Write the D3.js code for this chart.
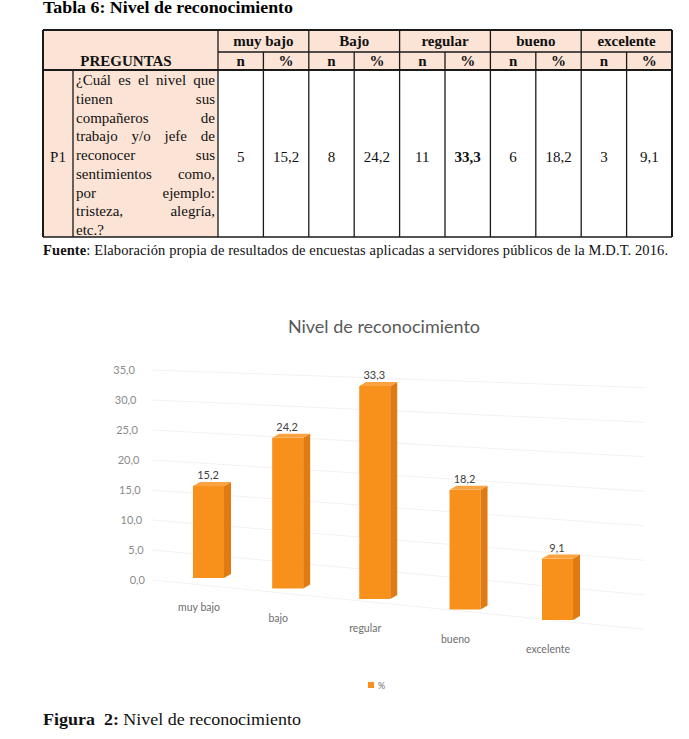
<!DOCTYPE html>
<html>
<head>
<meta charset="utf-8">
<script src="https://cdn.jsdelivr.net/npm/d3@7"></script>
<style>
  body { margin: 0; background: #fff; }
  svg { display: block; }
</style>
</head>
<body>
<div id="page"></div>
<script>
// tabla 6 data
var niveles = ["muy bajo", "Bajo", "regular", "bueno", "excelente"];
var frecuencias = [5, 8, 11, 6, 3];
var porcentajes = [15.2, 24.2, 33.3, 18.2, 9.1];
var pregunta = ["¿Cuál es el nivel que", "tienen sus", "compañeros de", "trabajo y/o jefe de",
  "reconocer sus", "sentimientos como,", "por ejemplo:", "tristeza, alegría,", "etc.?"];

// figura 2 data
var categorias = ["muy bajo", "bajo", "regular", "bueno", "excelente"];
var yTicks = [0, 5, 10, 15, 20, 25, 30, 35];
var serie = "%";

var coma = function (v) { return d3.format(".1f")(v).replace(".", ","); };
var serif = "'Liberation Serif', 'Times New Roman', serif";
var sans = "Lato, 'Open Sans', sans-serif";

var svg = d3.select("#page").append("svg")
  .attr("width", 689)
  .attr("height", 739);

// ---------- tabla ----------
svg.append("text")
  .attr("x", 43).attr("y", 13)
  .attr("textLength", 250).attr("lengthAdjust", "spacingAndGlyphs")
  .style("font-family", serif).style("font-size", "16px").style("font-weight", "bold")
  .text("Tabla 6: Nivel de reconocimiento");

var tx = d3.scaleLinear().domain([0, 10]).range([218, 672]);
var rowY = [30, 52, 70, 237];
var pink = "#fbe3d6";
var tbl = svg.append("g").style("font-family", serif).style("font-size", "15px").attr("fill", "#111");

tbl.append("rect").attr("x", 43).attr("y", rowY[0]).attr("width", 672 - 43).attr("height", rowY[2] - rowY[0]).attr("fill", pink);
tbl.append("rect").attr("x", 43).attr("y", rowY[2]).attr("width", 218 - 43).attr("height", rowY[3] - rowY[2]).attr("fill", pink);

var lines = tbl.append("g").attr("stroke", "#1a1a1a").attr("stroke-width", 1.3);
// horizontales
lines.append("line").attr("x1", 43).attr("x2", 672).attr("y1", rowY[0]).attr("y2", rowY[0]).attr("stroke-width", 2);
lines.append("line").attr("x1", 218).attr("x2", 672).attr("y1", rowY[1]).attr("y2", rowY[1]);
lines.append("line").attr("x1", 43).attr("x2", 672).attr("y1", rowY[2]).attr("y2", rowY[2]).attr("stroke-width", 2);
lines.append("line").attr("x1", 43).attr("x2", 672).attr("y1", rowY[3]).attr("y2", rowY[3]);
// verticales
lines.append("line").attr("x1", 43).attr("x2", 43).attr("y1", rowY[0]).attr("y2", rowY[3]).attr("stroke-width", 2);
lines.append("line").attr("x1", 73).attr("x2", 73).attr("y1", rowY[2]).attr("y2", rowY[3]);
d3.range(0, 11).forEach(function (k) {
  lines.append("line")
    .attr("x1", tx(k)).attr("x2", tx(k))
    .attr("y1", k % 2 === 0 ? rowY[0] : rowY[1]).attr("y2", rowY[3])
    .attr("stroke-width", k === 10 ? 2 : 1.3);
});

// encabezados
tbl.selectAll(".nivel").data(niveles).enter().append("text")
  .attr("x", function (d, i) { return tx(2 * i + 1); })
  .attr("y", 46).attr("text-anchor", "middle").style("font-weight", "bold")
  .text(function (d) { return d; });
tbl.selectAll(".sub").data(d3.range(10)).enter().append("text")
  .attr("x", function (d) { return tx(d + 0.5); })
  .attr("y", 66).attr("text-anchor", "middle").style("font-weight", "bold")
  .text(function (d) { return d % 2 === 0 ? "n" : "%"; });
tbl.append("text").attr("x", 126).attr("y", 66).attr("text-anchor", "middle")
  .style("font-weight", "bold").text("PREGUNTAS");

// fila P1
var filaY = 162;
tbl.append("text").attr("x", 58).attr("y", filaY).attr("text-anchor", "middle").text("P1");
tbl.selectAll(".n").data(frecuencias).enter().append("text")
  .attr("x", function (d, i) { return tx(2 * i + 0.5); })
  .attr("y", filaY).attr("text-anchor", "middle")
  .text(function (d) { return d; });
tbl.selectAll(".pct").data(porcentajes).enter().append("text")
  .attr("x", function (d, i) { return tx(2 * i + 1.5); })
  .attr("y", filaY).attr("text-anchor", "middle")
  .style("font-weight", function (d) { return d === d3.max(porcentajes) ? "bold" : null; })
  .text(function (d) { return coma(d); });

// pregunta justificada
var qLeft = 76, qRight = 215;
pregunta.forEach(function (linea, li) {
  var yy = 85 + li * 18.75;
  var words = linea.split(" ");
  var nodes = words.map(function (w) {
    return tbl.append("text").attr("y", yy).text(w);
  });
  var widths = nodes.map(function (n) { return n.node().getComputedTextLength(); });
  var last = li === pregunta.length - 1;
  var gap = (last || words.length < 2) ? 4 : (qRight - qLeft - d3.sum(widths)) / (words.length - 1);
  var cx = qLeft;
  nodes.forEach(function (n, k) {
    n.attr("x", cx);
    cx += widths[k] + gap;
  });
});

// fuente
var fuente = svg.append("text").attr("x", 43).attr("y", 255)
  .attr("textLength", 625).attr("lengthAdjust", "spacing")
  .style("font-family", serif).style("font-size", "14.5px").attr("fill", "#111");
fuente.append("tspan").style("font-weight", "bold").text("Fuente");
fuente.append("tspan").text(": Elaboración propia de resultados de encuestas aplicadas a servidores públicos de la M.D.T. 2016.");

// ---------- figura ----------
var chart = svg.append("g");

chart.append("text")
  .attr("x", 384).attr("y", 333).attr("text-anchor", "middle")
  .style("font-family", sans).style("font-size", "18px").attr("fill", "#595959")
  .text("Nivel de reconocimiento");

// perspectiva: posicion, base y escala vertical cambian con la categoria
var idx = d3.scalePoint().domain(categorias).range([0, 4]);
var xPos = d3.scalePow().exponent(1.07).domain([0, 4]).range([212, 561]);
var base = d3.scaleLinear().domain([0, 4]).range([578, 620]);
var unit = d3.scaleLinear().domain([0, 4]).range([6.05, 6.75]);
var y = d3.scaleLinear().domain([0, 35]).range([580, 370]);
var axisRight = d3.scaleLinear().domain([0, 35]).range([145, 135]);

// rejilla
chart.append("g").selectAll("line").data(yTicks).enter().append("line")
  .attr("x1", 152).attr("y1", function (d) { return y(d); })
  .attr("x2", 645).attr("y2", function (d) { return base(4.9) - d * unit(4.9); })
  .attr("stroke", "#f2f2f2").attr("stroke-width", 1);

// eje Y
var gy = chart.append("g")
  .call(d3.axisLeft(y).tickValues(yTicks).tickSize(0).tickFormat(coma));
gy.select(".domain").remove();
gy.selectAll(".tick")
  .attr("transform", function (d) { return "translate(" + (axisRight(d) + 3) + "," + y(d) + ")"; });
gy.selectAll(".tick text")
  .style("font-family", sans).style("font-size", "11px").attr("fill", "#8a8a8a");

// barras 3D
var frontColor = "#f8911c", sideColor = "#df7b12", topColor = "#fba341";
var fw = 31, sw = 7, dh = 4;
var bars = chart.append("g").selectAll("g").data(categorias).enter().append("g");

function geo(c, i) {
  var t = idx(c), cx = xPos(t), b = base(t);
  var h = porcentajes[i] * unit(t);
  return { cx: cx, x0: cx - 19, x1: cx - 19 + fw, bot: b, top: b - h };
}

bars.append("rect")
  .attr("x", function (d, i) { return geo(d, i).x0; })
  .attr("y", function (d, i) { return geo(d, i).top; })
  .attr("width", fw)
  .attr("height", function (d, i) { var g = geo(d, i); return g.bot - g.top; })
  .attr("fill", frontColor);
bars.append("path")
  .attr("d", function (d, i) {
    var g = geo(d, i);
    return "M" + g.x1 + "," + g.top + "L" + (g.x1 + sw) + "," + (g.top - dh) +
      "L" + (g.x1 + sw) + "," + (g.bot - dh) + "L" + g.x1 + "," + g.bot + "Z";
  })
  .attr("fill", sideColor);
bars.append("path")
  .attr("d", function (d, i) {
    var g = geo(d, i);
    return "M" + g.x0 + "," + g.top + "L" + g.x1 + "," + g.top +
      "L" + (g.x1 + sw) + "," + (g.top - dh) + "L" + (g.x0 + sw) + "," + (g.top - dh) + "Z";
  })
  .attr("fill", topColor);

// etiquetas de valor
bars.append("text")
  .attr("x", function (d, i) { return geo(d, i).cx - 4; })
  .attr("y", function (d, i) { return geo(d, i).top - 7; })
  .attr("text-anchor", "middle")
  .style("font-family", sans).style("font-size", "11px").attr("fill", "#404040")
  .text(function (d, i) { return coma(porcentajes[i]); });

// categorias
bars.append("text")
  .attr("x", function (d, i) { return geo(d, i).cx - 13; })
  .attr("y", function (d, i) { return geo(d, i).bot + 33; })
  .attr("text-anchor", "middle")
  .style("font-family", sans).style("font-size", "10.5px").attr("fill", "#6e6e6e")
  .text(function (d) { return d; });

// leyenda
var leg = chart.append("g").attr("transform", "translate(368,682)");
leg.append("rect").attr("width", 6).attr("height", 6).attr("fill", frontColor);
leg.append("text").attr("x", 10).attr("y", 7)
  .style("font-family", sans).style("font-size", "9px").attr("fill", "#6e6e6e").text(serie);

// pie de figura
var pie = svg.append("text").attr("x", 43).attr("y", 725)
  .attr("textLength", 258).attr("lengthAdjust", "spacingAndGlyphs")
  .style("font-family", serif).style("font-size", "16px").attr("fill", "#111");
pie.append("tspan").style("font-weight", "bold").attr("xml:space", "preserve").text("Figura  2:");
pie.append("tspan").text(" Nivel de reconocimiento");
</script>
</body>
</html>
